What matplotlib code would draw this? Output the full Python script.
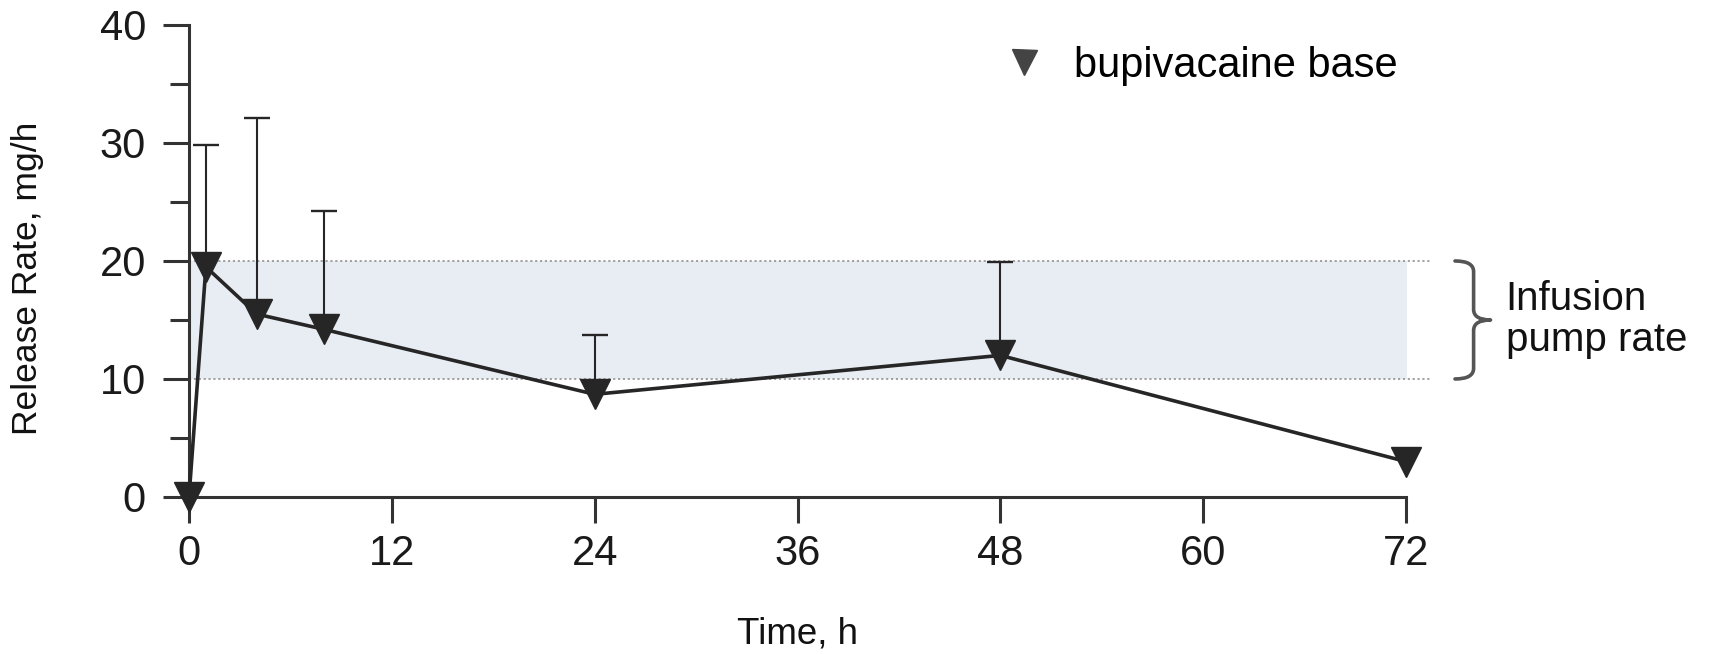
import numpy as np
import matplotlib
matplotlib.use("Agg")
import matplotlib.pyplot as plt
from matplotlib.lines import Line2D
from matplotlib.path import Path
from matplotlib.patches import PathPatch

plt.rcParams['font.family'] = ['Liberation Sans', 'DejaVu Sans']

# ------------ DATA ------------

time_h = [0, 1, 4, 8, 24, 48, 72]
release_rate = [0, 19.5, 15.5, 14.2, 8.7, 12.0, 3.0]
upper_err = [np.nan, 29.8, 32.1, 24.2, 13.7, 19.9, np.nan]

x_ticks = [0, 12, 24, 36, 48, 60, 72]
y_ticks = [0, 10, 20, 30, 40]
y_minor = [5, 15, 25, 35]

pump_low, pump_high = 10, 20
band_end = 73.4

INK = '#262626'

# ------------ PLOT ------------

fig = plt.figure(figsize=(17.09, 6.54), dpi=100)
ax = fig.add_axes([0.1106, 0.2401, 0.7121, 0.7217])

# infusion pump band
ax.fill_between([0, band_end], pump_low, pump_high, color='#e8ecf3', lw=0, zorder=0)
ax.hlines([pump_low, pump_high], 0, band_end, colors='#9a9a9a', linestyles=(0, (1.2, 1.5)),
          lw=1.3, zorder=1, clip_on=False)

# error bars (upper only)
ax.vlines(time_h, release_rate, upper_err, colors=INK, lw=1.5, zorder=2)
ax.plot(time_h, upper_err, ls='none', marker='_', markersize=19, mew=1.7, color=INK, zorder=2)

# mean line
ax.plot(time_h, release_rate, color=INK, lw=2.6, marker='v', markersize=22,
        clip_on=False, zorder=3)

# axes styling
ax.set_xlim(0, 72)
ax.set_ylim(0, 40)
ax.set_xticks(x_ticks)
ax.set_yticks(y_ticks)
ax.set_yticks(y_minor, minor=True)
for side in ['top', 'right']:
    ax.spines[side].set_visible(False)
for side in ['left', 'bottom']:
    ax.spines[side].set_color('#333333')
    ax.spines[side].set_linewidth(2.2)
ax.tick_params(axis='both', which='major', length=19, width=2.2, color='#333333',
               labelsize=30, labelcolor='#1a1a1a')
ax.tick_params(axis='y', which='major', pad=12)
ax.tick_params(axis='x', which='major', pad=8)
ax.tick_params(axis='y', which='minor', length=14, width=2.2, color='#333333')

ax.set_xlabel('Time, h', fontsize=26.5, va='center', color='#111111')
ax.xaxis.set_label_coords(0.5, -0.29)
ax.set_ylabel('Release Rate, mg/h', fontsize=25.5, va='center', color='#111111')
ax.yaxis.set_label_coords(-0.133, 0.464)

# brace for infusion pump rate
x0, x1, x2 = 74.9, 76.0, 77.0
yt, ym, yb = pump_high, (pump_low + pump_high) / 2, pump_low
verts = [(x0, yt), (x1, yt), (x1, yt - 0.9),
         (x1, ym + 0.9),
         (x1, ym), (x2, ym),
         (x1, ym), (x1, ym - 0.9),
         (x1, yb + 0.9),
         (x1, yb), (x0, yb)]
codes = [Path.MOVETO, Path.CURVE3, Path.CURVE3,
         Path.LINETO,
         Path.CURVE3, Path.CURVE3,
         Path.CURVE3, Path.CURVE3,
         Path.LINETO,
         Path.CURVE3, Path.CURVE3]
ax.add_patch(PathPatch(Path(verts, codes), fill=False, edgecolor='#555555', lw=2.6,
                       clip_on=False, capstyle='round', joinstyle='round'))
ax.text(77.9, ym, 'Infusion\npump rate', fontsize=29, ha='left', va='center',
        linespacing=1.1, color='#111111', clip_on=False)

# legend
handle = Line2D([], [], ls='none', marker='v', color='#444444', markersize=18,
                label='bupivacaine base')
ax.legend(handles=[handle], loc='center left', bbox_to_anchor=(0.669, 0.913),
          frameon=False, fontsize=30, handlelength=1.0, handletextpad=0.7,
          borderpad=0, borderaxespad=0)

fig.savefig('out.png', dpi=100)
